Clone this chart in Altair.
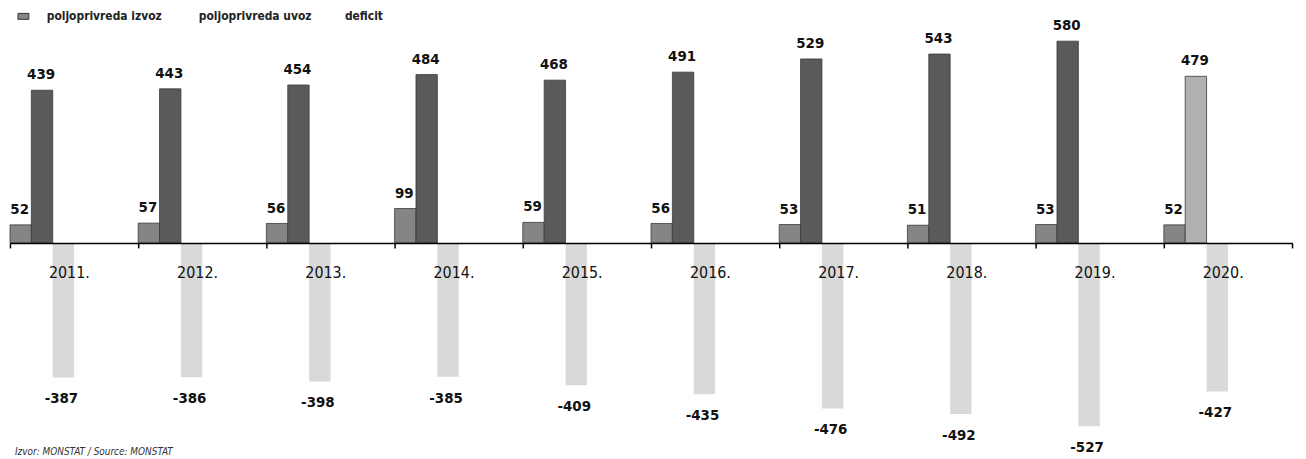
import altair as alt
import pandas as pd

years = ["2011", "2012", "2013", "2014", "2015", "2016", "2017", "2018", "2019", "2020"]
izvoz = [52, 57, 56, 99, 59, 56, 53, 51, 53, 52]
uvoz = [439, 443, 454, 484, 468, 491, 529, 543, 580, 479]
deficit = [-387, -386, -398, -385, -409, -435, -476, -492, -527, -427]

legend_labels = ["poljoprivreda izvoz", "poljoprivreda uvoz", "deficit"]
legend_x = [37, 190, 337]
source_text = "Izvor: MONSTAT / Source: MONSTAT"

FONT = "DejaVu Sans Condensed, sans-serif"

rows = []
for i, y in enumerate(years):
    rows.append({"year": y, "slot": "izvoz", "value": izvoz[i], "shade": "izvoz"})
    rows.append({"year": y, "slot": "uvoz", "value": uvoz[i],
                 "shade": "uvoz2020" if y == "2020" else "uvoz"})
    rows.append({"year": y, "slot": "deficit", "value": deficit[i], "shade": "deficit"})
df = pd.DataFrame(rows)
df["lab"] = df["value"].map(lambda v: str(v))
ydf = pd.DataFrame({"year": years, "slot": ["deficit"] * len(years),
                    "lab": [y + "." for y in years], "zero": [0] * len(years)})

slots = ["izvoz", "uvoz", "deficit", "s4", "s5", "s6"]

xscale = alt.Scale(domain=years, paddingInner=0, paddingOuter=0)
x = alt.X("year:N", sort=years, scale=xscale,
          axis=alt.Axis(title=None, orient="bottom", offset=-216, tickBand="extent",
                        domainColor="#000", domainWidth=1.5,
                        tickColor="#000", tickWidth=1.5, tickSize=5,
                        labels=False, grid=False, zindex=1))
xo = alt.XOffset("slot:N", scale=alt.Scale(domain=slots, paddingInner=0, paddingOuter=0))
yscale = alt.Scale(domain=[-617.1, 671.4], nice=False, zero=False)

base = alt.Chart(df)

bars = base.mark_bar(stroke="#3a3a3a", strokeWidth=0.8).encode(
    x=x, xOffset=xo,
    y=alt.Y("value:Q", scale=yscale, axis=None),
    y2=alt.datum(0),
    color=alt.Color("shade:N",
                    scale=alt.Scale(domain=["izvoz", "uvoz", "uvoz2020", "deficit"],
                                    range=["#858585", "#5a5a5a", "#b0b0b0", "#d9d9d9"]),
                    legend=None),
    strokeOpacity=alt.condition("datum.slot == 'deficit'", alt.value(0), alt.value(1)),
)

pos_labels = base.transform_filter("datum.value > 0").mark_text(
    font=FONT, fontSize=15, fontWeight="bold", baseline="alphabetic", dy=-11, dx=-1, color="#111"
).encode(x=x, xOffset=xo, y=alt.Y("value:Q", scale=yscale, axis=None), text="lab:N")

neg_labels = base.transform_filter("datum.value < 0").mark_text(
    font=FONT, fontSize=15, fontWeight="bold", baseline="top", dy=14, dx=-2, color="#111"
).encode(x=x, xOffset=xo, y=alt.Y("value:Q", scale=yscale, axis=None), text="lab:N")

year_labels = alt.Chart(ydf).mark_text(
    font=FONT, fontSize=16, baseline="middle", align="center", dx=6, dy=30, color="#111"
).encode(x=x, xOffset=xo, y=alt.Y("zero:Q", scale=yscale, axis=None), text="lab:N")

leg_df = pd.DataFrame({"label": legend_labels, "lx": legend_x})
leg_text = alt.Chart(leg_df).mark_text(
    font=FONT, fontSize=12, fontWeight="bold", align="left", baseline="middle", color="#222"
).encode(x=alt.X("lx:Q", scale=None), y=alt.value(7), text="label:N")

leg_sym = alt.Chart(pd.DataFrame({"k": ["izvoz"]})).mark_rect(color="#858585", stroke="#333").encode(
    x=alt.value(8), x2=alt.value(19), y=alt.value(4), y2=alt.value(10))

src = alt.Chart(pd.DataFrame({"t": [source_text]})).mark_text(
    font=FONT, fontSize=10, fontStyle="italic", align="left", baseline="middle", color="#333"
).encode(x=alt.value(5), y=alt.value(445), text="t:N")

chart = alt.layer(bars, pos_labels, neg_labels, year_labels, leg_text, leg_sym, src).properties(
    width=1290, height=451,
    autosize=alt.AutoSizeParams(type="none"),
    padding={"left": 2, "top": 0, "right": 6, "bottom": 0},
).configure_view(stroke=None)

chart.save("out.html", embed_options={"renderer": "svg", "actions": False})
